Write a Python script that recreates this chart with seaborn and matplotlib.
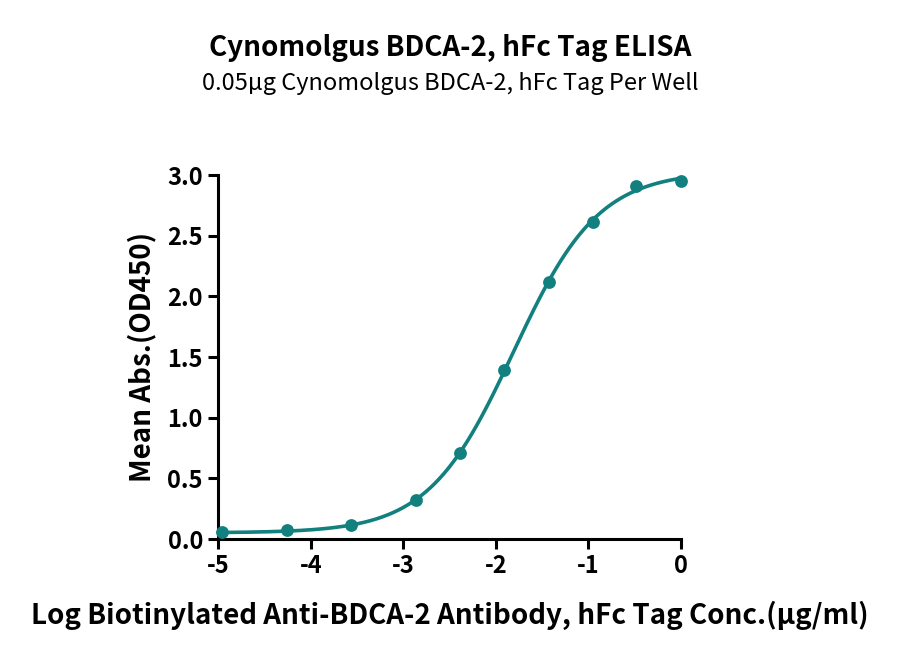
import numpy as np
import pandas as pd
import matplotlib
matplotlib.use('Agg')
import matplotlib.pyplot as plt
import seaborn as sns

# Data
log_conc = [-4.96, -4.26, -3.56, -2.86, -2.39, -1.91, -1.43, -0.95, -0.48, 0.0]
mean_abs = [0.054, 0.071, 0.112, 0.324, 0.708, 1.389, 2.119, 2.614, 2.910, 2.954]

title = 'Cynomolgus BDCA-2, hFc Tag ELISA'
subtitle = '0.05\u00b5g Cynomolgus BDCA-2, hFc Tag Per Well'
xlabel = 'Log Biotinylated Anti-BDCA-2 Antibody, hFc Tag Conc.(\u00b5g/ml)'
ylabel = 'Mean Abs.(OD450)'
xticks = [-5, -4, -3, -2, -1, 0]
yticks = [0.0, 0.5, 1.0, 1.5, 2.0, 2.5, 3.0]

color = '#12807f'

df = pd.DataFrame({'x': log_conc, 'y': mean_abs})


# 4PL fit (Gauss-Newton, numpy only)
def four_pl(x, p):
    bottom, top, logec50, hill = p
    return bottom + (top - bottom) / (1 + 10 ** ((logec50 - x) * hill))


x = np.array(log_conc)
y = np.array(mean_abs)
p = np.array([0.05, 3.0, -1.8, 1.0])
for _ in range(200):
    r = y - four_pl(x, p)
    J = np.zeros((len(x), 4))
    for k in range(4):
        dp = np.zeros(4)
        dp[k] = 1e-6
        J[:, k] = (four_pl(x, p + dp) - four_pl(x, p)) / 1e-6
    step = np.linalg.lstsq(J, r, rcond=None)[0]
    p = p + 0.5 * step

xs = np.linspace(-5, 0, 300)
fit = pd.DataFrame({'x': xs, 'y': four_pl(xs, p)})

sns.set_style('ticks')
plt.rcParams['font.family'] = ['Noto Sans CJK SC', 'DejaVu Sans']
plt.rcParams['text.color'] = 'black'

fig = plt.figure(figsize=(9, 6.6), dpi=100)
ax = fig.add_axes([0.2425, 0.1833, 0.514, 0.5515])

sns.lineplot(data=fit, x='x', y='y', ax=ax, color=color, linewidth=2.6)
sns.scatterplot(data=df, x='x', y='y', ax=ax, color=color, s=85,
                edgecolor=color, linewidth=0, zorder=5, clip_on=False)
for c in ax.collections:
    c.set_clip_on(False)
for l in ax.lines:
    l.set_clip_on(False)

ax.set_xlim(-5, 0)
ax.set_ylim(0, 3.0)
ax.set_xticks(xticks)
ax.set_xticklabels([str(t) for t in xticks])
ax.set_yticks(yticks)
ax.set_yticklabels([f'{t:.1f}' for t in yticks])

for side in ['top', 'right']:
    ax.spines[side].set_visible(False)
for side in ['left', 'bottom']:
    ax.spines[side].set_linewidth(2.2)
    ax.spines[side].set_color('black')
ax.tick_params(axis='both', direction='out', length=7, width=2.2,
               labelsize=17, colors='black', labelcolor='black', pad=4)
for lab in ax.get_xticklabels() + ax.get_yticklabels():
    lab.set_fontweight('bold')

ax.set_xlabel(xlabel, fontsize=20, fontweight='bold', labelpad=16, color='black')
ax.set_ylabel(ylabel, fontsize=20, fontweight='bold', labelpad=8, color='black')

fig.text(0.5, 0.928, title, ha='center', va='center', fontsize=20, fontweight='bold', color='black')
fig.text(0.5, 0.874, subtitle, ha='center', va='center', fontsize=17, color='black')

fig.savefig('out.png', dpi=100, facecolor='white')
